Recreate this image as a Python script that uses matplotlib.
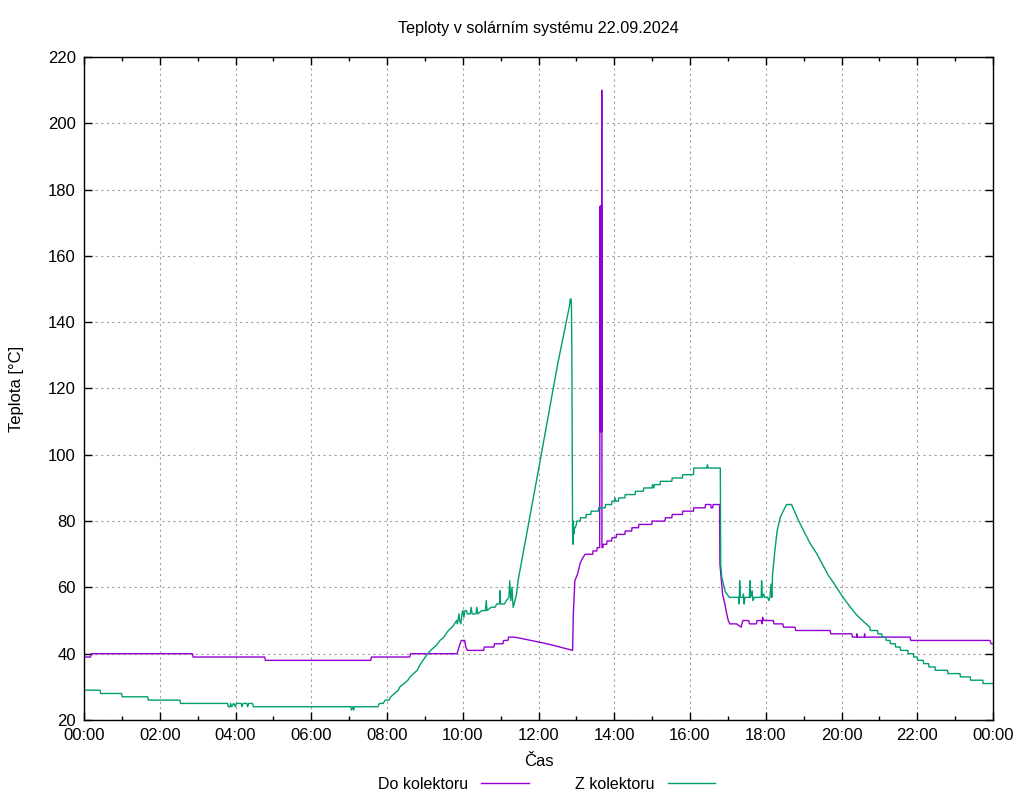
import matplotlib
matplotlib.use('Agg')
import matplotlib.pyplot as plt
from matplotlib.ticker import MultipleLocator

plt.rcParams['font.family'] = ['Liberation Sans', 'DejaVu Sans']
plt.rcParams['font.size'] = 12

title = 'Teploty v solárním systému 22.09.2024'
xlab = 'Čas'
ylab = 'Teplota [°C]'
names = ['Do kolektoru', 'Z kolektoru']
colors = ['#9400d3', '#009e73']

# Do kolektoru: (hodiny, °C)
do_pts = [(0.00, 39), (0.17, 39), (0.19, 40), (2.86, 40), (2.88, 39), (4.77, 39),
          (4.79, 38), (7.57, 38), (7.59, 39), (8.60, 39), (8.62, 40), (9.85, 40),
          (9.90, 42), (9.96, 44), (10.05, 44), (10.08, 42), (10.12, 41), (10.55, 41),
          (10.57, 42), (10.82, 42), (10.84, 43), (11.06, 43), (11.08, 44), (11.19, 44),
          (11.21, 45), (11.36, 45), (11.50, 44.7), (11.80, 44), (12.10, 43.3),
          (12.40, 42.5), (12.70, 41.6), (12.90, 41), (12.92, 52), (12.96, 62),
          (13.03, 64), (13.10, 67.3), (13.14, 68.3), (13.23, 70), (13.43, 70),
          (13.44, 71), (13.54, 71), (13.55, 72), (13.615, 72), (13.62, 107),
          (13.63, 175), (13.635, 107), (13.64, 175), (13.645, 107), (13.65, 175),
          (13.655, 107), (13.66, 175), (13.665, 107), (13.67, 210), (13.675, 72),
          (13.70, 72), (13.71, 73), (13.80, 73), (13.81, 74), (13.93, 74), (13.94, 75),
          (14.05, 75), (14.06, 76), (14.28, 76), (14.29, 77), (14.46, 77), (14.47, 78),
          (14.64, 78), (14.65, 79), (14.99, 79), (15.00, 80), (15.34, 80), (15.35, 81),
          (15.52, 81), (15.53, 82), (15.80, 82), (15.81, 83), (16.09, 83), (16.10, 84),
          (16.40, 84), (16.41, 85), (16.55, 85), (16.56, 84), (16.60, 84), (16.61, 85),
          (16.78, 85), (16.79, 67), (16.86, 58), (16.92, 55), (16.97, 52), (17.01, 50),
          (17.05, 49), (17.23, 49), (17.35, 48), (17.37, 49), (17.40, 50), (17.55, 50),
          (17.57, 49), (17.75, 49), (17.77, 50), (17.88, 50), (17.90, 49), (17.92, 51),
          (17.95, 50), (18.20, 50), (18.22, 49), (18.45, 49), (18.47, 48), (18.77, 48),
          (18.79, 47), (19.70, 47), (19.72, 46), (20.27, 46), (20.29, 45), (20.40, 45),
          (20.41, 46), (20.42, 45), (20.60, 45), (20.61, 46), (20.62, 45), (21.81, 45),
          (21.83, 44), (23.92, 44), (23.95, 43), (24.00, 43)]

# Z kolektoru: (hodiny, °C)
z_pts = [(0.00, 29), (0.42, 29), (0.44, 28), (0.99, 28), (1.01, 27), (1.68, 27),
         (1.70, 26), (2.53, 26), (2.55, 25), (3.79, 25), (3.81, 24), (3.86, 24),
         (3.87, 25), (3.90, 24), (3.95, 25), (4.00, 24), (4.02, 25), (4.15, 25),
         (4.17, 24), (4.20, 25), (4.30, 25), (4.32, 24), (4.35, 25), (4.45, 25),
         (4.47, 24), (7.05, 24), (7.06, 23), (7.10, 24), (7.12, 23), (7.14, 24),
         (7.76, 24), (7.80, 25), (7.90, 25), (7.95, 26), (8.05, 26), (8.10, 27),
         (8.20, 28), (8.30, 29), (8.34, 30), (8.45, 31), (8.55, 32), (8.61, 33),
         (8.70, 34), (8.80, 35), (8.87, 36.6), (8.95, 38), (9.05, 39.6), (9.15, 41),
         (9.31, 42.6), (9.40, 44), (9.50, 45), (9.62, 47), (9.72, 48), (9.84, 50),
         (9.86, 49), (9.90, 52), (9.92, 50), (9.95, 49), (9.98, 52), (10.00, 53),
         (10.03, 51), (10.06, 53), (10.10, 53), (10.12, 52), (10.20, 52), (10.22, 54),
         (10.25, 52), (10.35, 52), (10.37, 54), (10.40, 52), (10.50, 53), (10.60, 53),
         (10.62, 56), (10.64, 53), (10.75, 54), (10.85, 54), (10.90, 55), (10.97, 55),
         (10.98, 59), (11.00, 55), (11.10, 55), (11.15, 56), (11.22, 57), (11.24, 62),
         (11.27, 56), (11.30, 60), (11.33, 54), (11.38, 56), (11.42, 58), (11.46, 62),
         (12.04, 98), (12.50, 127), (12.82, 145), (12.84, 147), (12.86, 147),
         (12.87, 145), (12.88, 132), (12.90, 76), (12.91, 73), (12.92, 80), (12.93, 76),
         (12.95, 78), (12.97, 78), (13.00, 79), (13.01, 80), (13.10, 80), (13.11, 81),
         (13.25, 81), (13.26, 82), (13.38, 82), (13.39, 83), (13.58, 83), (13.59, 84),
         (13.76, 84), (13.77, 85), (13.93, 85), (13.94, 86), (14.00, 86), (14.02, 87),
         (14.04, 86), (14.11, 86), (14.12, 87), (14.28, 87), (14.29, 88), (14.55, 88),
         (14.56, 89), (14.77, 89), (14.78, 90), (15.00, 90), (15.01, 91), (15.04, 90),
         (15.06, 91), (15.21, 91), (15.22, 92), (15.52, 92), (15.53, 93), (15.80, 93),
         (15.81, 94), (16.09, 94), (16.10, 96), (16.44, 96), (16.46, 97), (16.48, 96),
         (16.80, 96), (16.81, 67), (16.84, 63), (16.93, 58.7), (17.04, 57), (17.28, 57),
         (17.30, 55), (17.31, 62), (17.33, 57), (17.40, 57), (17.41, 58), (17.43, 55),
         (17.45, 57), (17.57, 57), (17.58, 62), (17.60, 57), (17.64, 59), (17.66, 56),
         (17.70, 57), (17.88, 57), (17.89, 62), (17.91, 57), (17.95, 58), (17.97, 57),
         (18.05, 57), (18.08, 56), (18.11, 57), (18.14, 61), (18.16, 57), (18.18, 64),
         (18.24, 71), (18.30, 77), (18.38, 81), (18.46, 83), (18.55, 85), (18.68, 85),
         (18.86, 80.3), (18.99, 77.3), (19.17, 73.3), (19.34, 70.3), (19.48, 67.3),
         (19.65, 63.7), (19.83, 60.7), (20.00, 57.7), (20.22, 54.2), (20.40, 51.7),
         (20.60, 49.5), (20.75, 48), (20.76, 47), (20.95, 47), (20.96, 46), (21.06, 46),
         (21.07, 45), (21.17, 45), (21.18, 44), (21.28, 44), (21.29, 43), (21.42, 43),
         (21.43, 42), (21.55, 42), (21.56, 41), (21.75, 41), (21.76, 40), (21.90, 40),
         (21.91, 39), (22.00, 39), (22.01, 38), (22.16, 38), (22.17, 37), (22.30, 37),
         (22.31, 36), (22.47, 36), (22.48, 35), (22.80, 35), (22.81, 34), (23.13, 34),
         (23.14, 33), (23.40, 33), (23.41, 32), (23.73, 32), (23.74, 31), (24.00, 31)]

xticks = list(range(0, 25, 2))
xlabels = ['%02d:00' % (h % 24) for h in xticks]
yticks = list(range(20, 221, 20))

do_t, do_v = zip(*do_pts)
z_t, z_v = zip(*z_pts)

fig = plt.figure(figsize=(10.24, 8.0), dpi=100)
ax = fig.add_axes([84/1024, 80/800, 909/1024, 663/800])

ax.plot(do_t, do_v, color=colors[0], lw=1.0, label=names[0])
ax.plot(z_t, z_v, color=colors[1], lw=1.0, label=names[1])

ax.set_xlim(0, 24)
ax.set_ylim(20, 220)
ax.set_xticks(xticks)
ax.set_xticklabels(xlabels)
ax.set_yticks(yticks)
ax.xaxis.set_minor_locator(MultipleLocator(1))
ax.tick_params(which='both', direction='in', top=True, right=True, width=1, pad=6)
ax.tick_params(which='major', length=6)
ax.tick_params(which='minor', length=3)
ax.grid(True, which='major', color='#a0a0a0', linestyle=(0, (2, 3)), lw=0.8)
ax.set_axisbelow(True)
for s in ax.spines.values():
    s.set_linewidth(1)

ax.set_title(title, fontsize=11.6, pad=17)
ax.set_xlabel(xlab, labelpad=8)
ax.set_ylabel(ylab, labelpad=17)

fig.legend(loc='lower center', bbox_to_anchor=(0.534, -0.008), ncol=2,
           markerfirst=False, frameon=False, handlelength=3.0,
           columnspacing=2.9, handletextpad=0.8, fontsize=11.5)

fig.savefig('out.png', dpi=100)
plt.close()
